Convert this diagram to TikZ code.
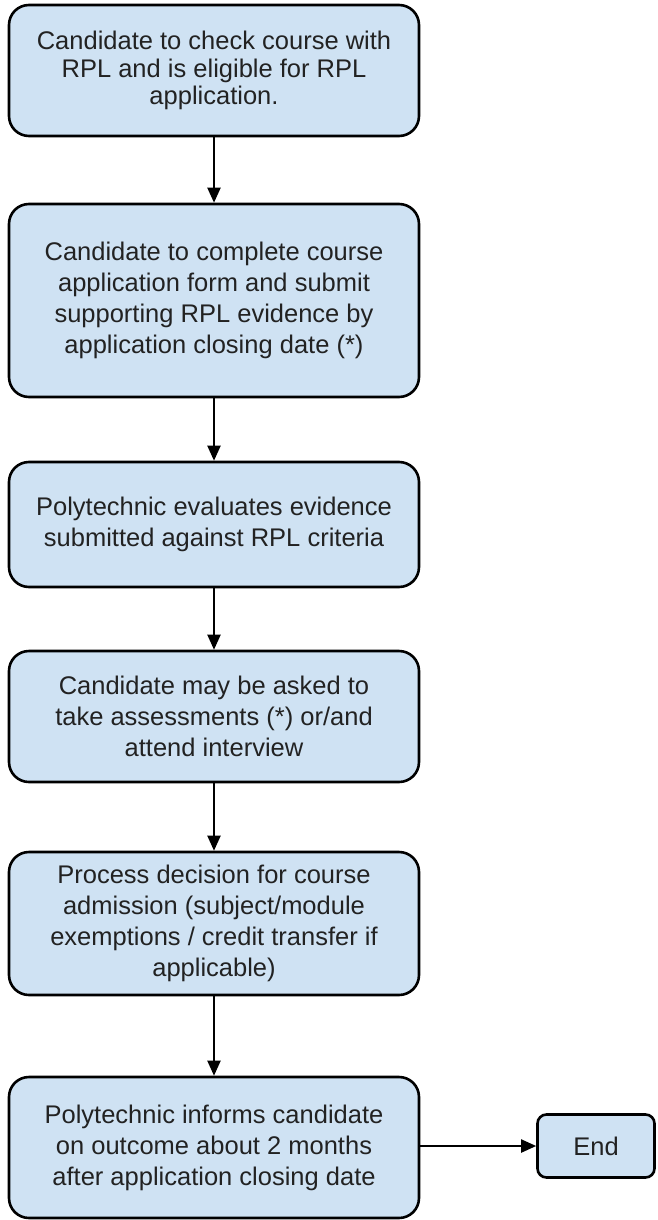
\documentclass[tikz,border=0pt]{standalone}
\usepackage{fontspec}
\setmainfont{Liberation Sans}
\usetikzlibrary{arrows.meta}
\definecolor{boxfill}{HTML}{CFE2F3}
\definecolor{txt}{HTML}{222222}
\tikzset{
  stepbox/.style={draw=black, line width=2.6pt, fill=boxfill, rounded corners=20pt,
    minimum width=410pt, align=center, text=txt, font=\fontsize{25.5}{31}\selectfont,
    inner sep=0pt},
  tightbox/.style={stepbox, font=\fontsize{25.5}{27.5}\selectfont},
  endbox/.style={draw=black, line width=2.6pt, fill=boxfill, rounded corners=9pt,
    minimum width=117pt, minimum height=63pt, text=txt, font=\fontsize{25.5}{27.5}\selectfont},
  conn/.style={line width=2pt, -{Triangle[width=13pt,length=15pt]}}
}
\begin{document}
\begin{tikzpicture}[x=1pt,y=-1pt]
\useasboundingbox (0,0) rectangle (657,1220);
\node[tightbox, minimum height=131pt] (b1) at (214,70.5) {Candidate to check course with\\RPL and is eligible for RPL\\application.};
\node[stepbox, minimum height=193pt] (b2) at (214,300.5) {Candidate to complete course\\application form and submit\\supporting RPL evidence by\\application closing date (*)};
\node[stepbox, minimum height=125pt] (b3) at (214,524.5) {Polytechnic evaluates evidence\\submitted against RPL criteria};
\node[stepbox, minimum height=131pt] (b4) at (214,716.5) {Candidate may be asked to\\take assessments (*) or/and\\attend interview};
\node[stepbox, minimum height=143pt] (b5) at (214,923.5) {Process decision for course\\admission (subject/module\\exemptions / credit transfer if\\applicable)};
\node[stepbox, minimum height=141pt] (b6) at (214,1147.5) {Polytechnic informs candidate\\on outcome about 2 months\\after application closing date};
\node[endbox] (e) at (596,1146) {End};
\draw[conn] (b1) -- (b2);
\draw[conn] (b2) -- (b3);
\draw[conn] (b3) -- (b4);
\draw[conn] (b4) -- (b5);
\draw[conn] (b5) -- (b6);
\draw[conn] (b6.east |- e.west) -- (e.west);
\end{tikzpicture}
\end{document}
